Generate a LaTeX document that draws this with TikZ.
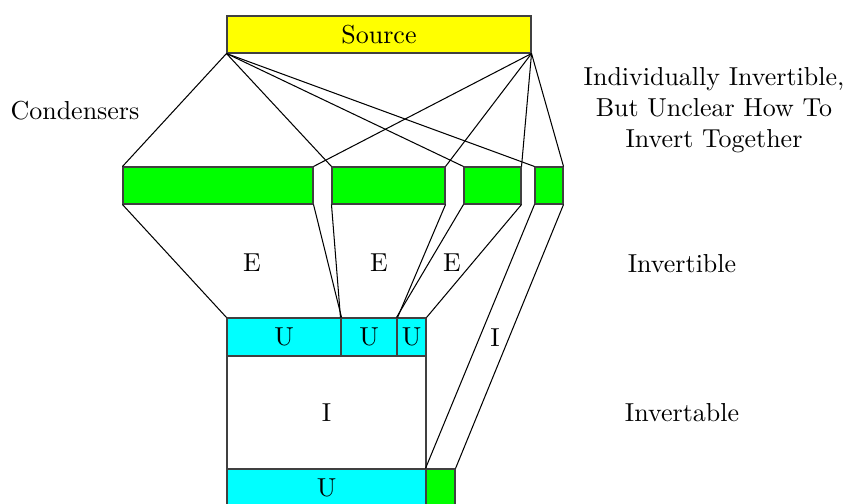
\documentclass[tikz,border=0pt]{standalone}
\usetikzlibrary{fit}
\definecolor{srcyellow}{RGB}{255,255,0}
\definecolor{condgreen}{RGB}{0,255,0}
\definecolor{unitcyan}{RGB}{0,255,255}
\begin{document}
\begin{tikzpicture}[
        x=0.385pt, y=-0.385pt,
        every node/.style={align=center},
        box/.style={draw=black!75, inner sep=0pt},
        cond/.style={box, fill=condgreen},
        unit/.style={box, fill=unitcyan}
      ]
    \useasboundingbox (0,0) rectangle (852,503);
    \node[box, fill=srcyellow, fit={(227,16) (531,53)},
    label=center:Source] (src) {};
    \node[cond, fit={(123,167) (313,204)}] (c1) {};
    \node[cond, fit={(332,167) (445,204)}] (c2) {};
    \node[cond, fit={(464,167) (521,204)}] (c3) {};
    \node[cond, fit={(535,167) (563,204)}] (c4) {};
    \node[unit, fit={(227,318) (341,356)}, label=center:U] (u1) {};
    \node[unit, fit={(341,318) (397,356)}, label=center:U] (u2) {};
    \node[unit, fit={(397,318) (426,356)}, label=center:U] (u3) {};
    \node[box, fit={(227,356) (426,469)}, label=center:I] (inv) {};
    \node[unit, fit={(227,469) (426,507)}, label=center:U] (ub) {};
    \node[cond, fit={(426,469) (455,507)}] (gb) {};
    \node at (252,263) (e1) {E};
    \node at (379,263) (e2) {E};
    \node at (452,263) (e3) {E};
    \node at (495,338) (i1) {I};
    \node at (75,111) (lcond) {Condensers};
    \node at (714,110) (lind)
    {Individually Invertible,\\But Unclear How To\\Invert Together};
    \node at (682,264) (linv) {Invertible};
    \node at (682,413) (ltab) {Invertable};
    \draw (src.south west) -- (c1.north west);
    \draw (src.south west) -- (c2.north west);
    \draw (src.south west) -- (c3.north west);
    \draw (src.south west) -- (c4.north west);
    \draw (src.south east) -- (c1.north east);
    \draw (src.south east) -- (c2.north east);
    \draw (src.south east) -- (c3.north east);
    \draw (src.south east) -- (c4.north east);
    \draw (c1.south west) -- (u1.north west);
    \draw (c1.south east) -- (u1.north east);
    \draw (c2.south west) -- (u2.north west);
    \draw (c2.south east) -- (u2.north east);
    \draw (c3.south west) -- (u3.north west);
    \draw (c3.south east) -- (u3.north east);
    \draw (c4.south west) -- (gb.north west);
    \draw (c4.south east) -- (gb.north east);
      \end{tikzpicture}
\end{document}
